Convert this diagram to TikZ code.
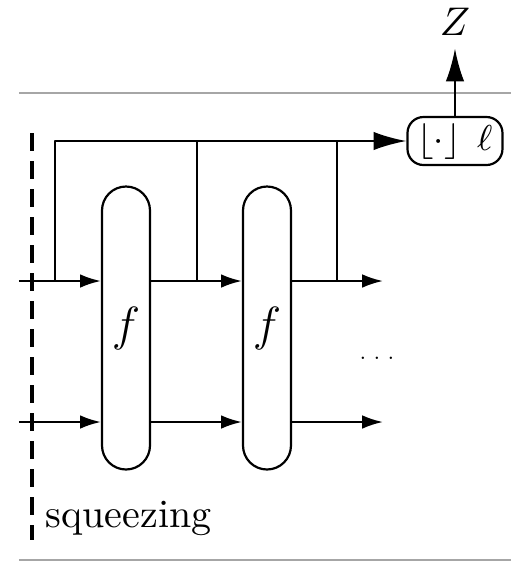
\documentclass[tikz,border=0pt]{standalone}
\usetikzlibrary{arrows.meta}
\begin{document}
\begin{tikzpicture}[x=0.25pt,y=-0.25pt,line cap=butt,line join=round,
    wire/.style={line width=0.55pt},
    arr/.style={wire,-{Latex[length=5.2pt,width=3.4pt]}},
    bigarr/.style={wire,-{Latex[length=8.2pt,width=4.6pt]}},
    fblock/.style={draw,line width=0.55pt,rounded corners=6pt,minimum width=12pt,minimum height=70.75pt,inner sep=0pt},
    lblock/.style={draw,line width=0.55pt,rounded corners=4pt,minimum width=23.75pt,minimum height=12pt,inner sep=0pt},
    rule/.style={line width=0.3pt,gray!70}]
  \useasboundingbox (0,0) rectangle (511,561);
  % rules and squeezing cut
  \draw[rule] (19,93) -- (511,93);
  \draw[rule] (19,560) -- (511,560);
  \draw[line width=1pt,dash pattern=on 4.5pt off 2.5pt] (32,133) -- (32,540);
  \node[anchor=base west,inner sep=0pt] (sqz) at (45,527) {squeezing};
  % blocks
  \node[fblock] (f1) at (126,328) {\large $f$};
  \node[fblock] (f2) at (267,328) {\large $f$};
  \node[lblock] (lb) at (455,141) {\small $\lfloor\cdot\rfloor\;\,\ell$};
  \node[inner sep=3pt] (z) at (455,22) {$Z$};
  \node[inner sep=0pt] (dots) at (377,358) {\tiny $\ldots$};
  % wires
  \coordinate (in1) at (19,281);
  \coordinate (in2) at (19,422);
  \coordinate (out1) at (383,281);
  \coordinate (out2) at (383,422);
  \coordinate (t0) at (55,281);
  \coordinate (t1) at (197,281);
  \coordinate (t2) at (337,281);
  \draw[arr] (in1) -- (f1.west |- in1);
  \draw[arr] (in2) -- (f1.west |- in2);
  \draw[arr] (f1.east |- in1) -- (f2.west |- in1);
  \draw[arr] (f1.east |- in2) -- (f2.west |- in2);
  \draw[arr] (f2.east |- in1) -- (out1);
  \draw[arr] (f2.east |- in2) -- (out2);
  % taps to the bus
  \draw[bigarr] (t0) |- (lb.west);
  \draw[wire] (t1) -- (t1 |- lb);
  \draw[wire] (t2) -- (t2 |- lb);
  \draw[bigarr] (lb.north) -- (z.south);
\end{tikzpicture}
\end{document}
